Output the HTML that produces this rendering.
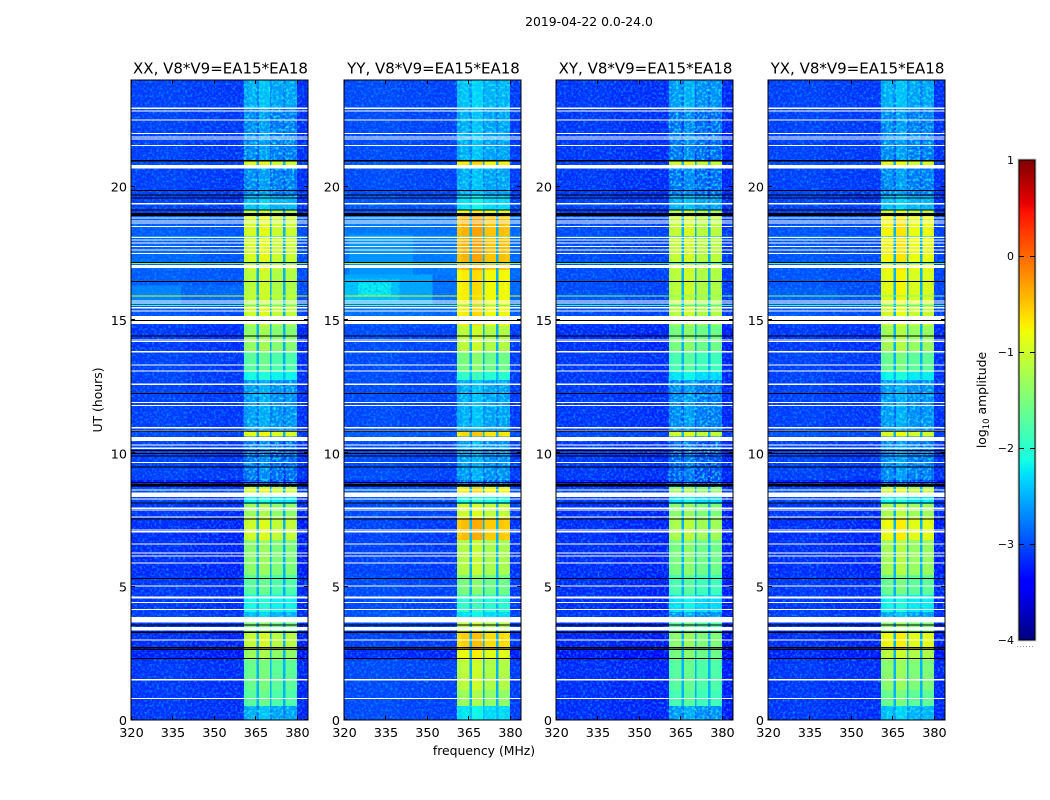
<!DOCTYPE html>
<html lang="en">
<head>
<meta charset="utf-8">
<title>2019-04-22 0.0-24.0</title>
<style>
html,body{margin:0;padding:0;background:#fff;}
svg{display:block;}
text{font-family:"DejaVu Sans","Liberation Sans",sans-serif;fill:#000;}
</style>
</head>
<body>
<svg id="chart" width="1050" height="800" viewBox="0 0 1050 800" xmlns="http://www.w3.org/2000/svg">
<defs>
<filter id="speckle" x="0" y="0" width="100%" height="100%" color-interpolation-filters="sRGB">
<feTurbulence type="fractalNoise" baseFrequency="0.42" numOctaves="2" seed="7"/>
<feColorMatrix type="matrix" values="0 0 0 0 0  0 0 0 0 0.6  0 0 0 0 1  2.4 0 0 0 -1.1"/>
</filter>
<filter id="speckle-bright" x="0" y="0" width="100%" height="100%" color-interpolation-filters="sRGB">
<feTurbulence type="fractalNoise" baseFrequency="0.38" numOctaves="2" seed="11"/>
<feColorMatrix type="matrix" values="0 0 0 0 0.1  0 0 0 0 0.95  0 0 0 0 0.95  2.6 0 0 0 -1.15"/>
</filter>
</defs>
<rect width="1050" height="800" fill="#fff"/>
<text x="589" y="26" font-size="12.4" text-anchor="middle">2019-04-22 0.0-24.0</text>
<text x="484" y="755" font-size="12.4" text-anchor="middle">frequency (MHz)</text>
<text x="102" y="400" font-size="12.4" text-anchor="middle" transform="rotate(-90 102 400)">UT (hours)</text>
<text x="986" y="400" font-size="12.4" text-anchor="middle" transform="rotate(-90 986 400)">log<tspan font-size="8.5" dy="3">10</tspan><tspan dy="-3"> amplitude</tspan></text>
<g id="panels"></g>
<g id="colorbar"></g>
</svg>
<script>
// Categories and axis ticks
const polarisations = ['XX', 'YY', 'XY', 'YX'];
const xTicks = [320, 335, 350, 365, 380];
const yTicks = [0, 5, 10, 15, 20];
const colorbarTicks = [1, 0, -1, -2, -3, -4];

// Frequency bins (MHz edges). binKind: 0 off-band, 1 in-band, 2 gap between sub-bands
const freqEdges = [320, 328, 340, 352, 360.8, 362.5, 365.3, 366.2, 368, 370.2, 370.8, 373, 375, 375.8, 378, 380, 384];
const binKind = [0, 0, 0, 0, 1, 1, 2, 1, 1, 2, 1, 1, 2, 1, 1, 0];
const binGain = [0.04, 0.06, 0.02, 0, -0.08, 0, 0, 0.1, 0.08, 0, -0.08, -0.08, 0, -0.06, -0.1, -0.04];
const gapCeiling = -2.5;

// Time segments (UT hours, start of each)
const segmentStart = [0, 0.52, 1.12, 2.25, 2.62, 3.3, 3.67, 4.05, 4.69, 5.44, 6.75, 7.58, 8.1, 8.36, 8.74, 9.0, 10.63, 10.8, 12.75, 13.05, 13.8, 14.8, 15.15, 15.6, 16.88, 18.9, 19.13, 19.65, 20.6, 20.81, 21, 22.95];

// Log10 amplitude inside the 361-380 MHz band, per polarisation
const inBandXX = [-2.55, -1.7, -1.6, -1.3, -1.05, -1.5, -2.45, -2.1, -1.7, -1.4, -1.0, -1.3, -2.15, -0.95, -3, -2.85, -0.85, -2.65, -2.1, -1.7, -1.35, -1.1, -1.0, -1.1, -0.95, -1.1, -2.45, -2.75, -2.75, -0.95, -2.75, -2.55];
const inBandYY = [-2.25, -1.3, -1.1, -0.8, -0.55, -1.1, -2.25, -1.9, -1.5, -1.15, -0.45, -1.0, -2.05, -0.7, -2.9, -2.65, -0.6, -2.55, -1.9, -1.5, -1.1, -0.7, -0.7, -0.7, -0.4, -0.8, -2.25, -2.55, -2.55, -0.7, -2.55, -2.45];
const inBandXY = [-2.65, -1.8, -1.7, -1.5, -1.4, -1.7, -2.65, -2.25, -1.8, -1.5, -1.2, -1.4, -2.25, -1.3, -3, -2.95, -1.0, -2.75, -2.25, -1.8, -1.5, -1.2, -1.1, -1.1, -1.05, -1.2, -2.55, -2.85, -2.85, -1.0, -2.85, -2.65];
const inBandYX = [-2.45, -1.6, -1.4, -1.1, -0.8, -1.4, -2.55, -2.15, -1.6, -1.25, -0.8, -1.2, -2.15, -1.0, -3, -2.75, -0.9, -2.65, -2.15, -1.6, -1.25, -0.95, -0.95, -0.85, -0.75, -1.0, -2.45, -2.75, -2.75, -0.9, -2.75, -2.55];

// Log10 amplitude outside the band, per polarisation
const offBandXX = [-3.2, -3.2, -3.2, -3.3, -3.25, -3.2, -3.15, -3.2, -3.2, -3.25, -3.25, -3.2, -3.15, -3.1, -3.35, -3.15, -3.1, -3.15, -3.15, -3.15, -3.2, -3.15, -3.05, -3.0, -3.0, -3.15, -3.15, -3.15, -3.15, -3.1, -3.15, -3.15];
const offBandYY = [-3.1, -3.1, -3.1, -3.25, -3.15, -3.1, -3.05, -3.1, -3.1, -3.15, -3.15, -3.1, -3.05, -3.0, -3.25, -3.1, -3.0, -3.1, -3.1, -3.1, -3.1, -3.05, -2.9, -2.85, -2.85, -3.05, -3.05, -3.1, -3.1, -3.05, -3.1, -3.1];
const offBandXY = [-3.25, -3.25, -3.25, -3.35, -3.3, -3.25, -3.2, -3.25, -3.25, -3.25, -3.25, -3.25, -3.2, -3.15, -3.35, -3.2, -3.1, -3.2, -3.2, -3.2, -3.25, -3.2, -3.1, -3.1, -3.1, -3.2, -3.15, -3.2, -3.2, -3.15, -3.2, -3.2];
const offBandYX = [-3.2, -3.2, -3.2, -3.3, -3.25, -3.2, -3.15, -3.2, -3.2, -3.25, -3.25, -3.2, -3.15, -3.1, -3.35, -3.15, -3.05, -3.15, -3.15, -3.15, -3.2, -3.15, -3.05, -3.05, -3.05, -3.15, -3.15, -3.15, -3.15, -3.1, -3.15, -3.15];

// Off-band glow patches: [start hour, end hour, start MHz, end MHz, level]
const glowXX = [[15.6, 16.3, 320, 338, -2.75], [15.6, 16.3, 338, 360.8, -2.9], [16.9, 17.6, 320, 345, -2.9]];
const glowYY = [[15.6, 16.7, 320, 352, -2.55], [15.7, 16.55, 320, 340, -2.4], [15.9, 16.4, 325, 337, -2.2], [16.7, 18.2, 322, 345, -2.65], [16.7, 18.2, 345, 360.8, -2.8]];
const glowXY = [[15.6, 16.0, 320, 345, -3.0]];
const glowYX = [[15.6, 16.2, 320, 345, -2.95]];

// Broadband bright rows: UT hour and level, per polarisation
const brightRowHours = [15.9, 15.55, 17.12, 17.63, 18.12];
const brightRowXX = [-1.0, -1.7, -1.7, -2.2, -2.2];
const brightRowYY = [-0.9, -1.5, -1.5, -1.8, -1.7];
const brightRowXY = [-1.5, -1.9, -2.1, -2.5, -2.5];
const brightRowYX = [-1.5, -1.8, -2.0, -2.4, -2.4];

// Rows with no data (white): [start, end] UT hours
const missingRows = [[0.79, 0.83], [1.48, 1.53], [2.98, 3.02], [3.35, 3.48], [3.65, 3.69], [3.7, 3.87], [4.13, 4.17], [4.38, 4.42], [4.56, 4.59], [4.6, 4.64], [5.01, 5.05], [5.86, 5.9], [6.13, 6.17], [6.25, 6.29], [6.58, 6.62], [7.04, 7.08], [7.11, 7.15], [7.6, 7.64], [7.86, 7.9], [7.92, 7.96], [8.27, 8.31], [8.36, 8.53], [8.61, 8.65], [9.64, 9.68], [10.17, 10.21], [10.29, 10.33], [10.46, 10.62], [10.84, 10.88], [10.94, 10.98], [11.78, 11.82], [11.88, 11.92], [12.57, 12.61], [13.07, 13.11], [13.29, 13.33], [13.79, 13.83], [14.17, 14.21], [14.23, 14.27], [14.85, 14.96], [15.0, 15.15], [15.32, 15.36], [15.44, 15.48], [15.61, 15.65], [15.69, 15.73], [16.95, 17.06], [17.48, 17.52], [17.61, 17.65], [17.73, 17.77], [17.86, 17.9], [17.98, 18.02], [18.08, 18.12], [18.48, 18.52], [18.61, 18.65], [18.7, 18.74], [18.81, 18.85], [19.34, 19.38], [20.68, 20.81], [21.53, 21.57], [21.77, 21.81], [21.85, 21.89], [21.98, 22.02], [22.48, 22.52], [22.81, 22.85], [22.92, 22.96]];

// Rows drawn black in the reference: [start, end] UT hours
const blackRows = [[2.29, 2.33], [2.63, 2.67], [2.69, 2.73], [3.27, 3.31], [3.54, 3.58], [5.29, 5.33], [7.51, 7.55], [8.12, 8.16], [8.75, 8.85], [8.88, 8.92], [9.46, 9.5], [9.88, 9.92], [9.97, 10.01], [10.08, 10.12], [10.82, 10.86], [12.23, 12.27], [14.38, 14.42], [14.96, 15.0], [16.42, 16.46], [17.13, 17.17], [18.9, 19.02], [19.11, 19.15], [19.56, 19.6], [19.67, 19.71], [19.83, 19.87], [20.94, 21.0]];

const inBandByPol = [inBandXX, inBandYY, inBandXY, inBandYX];
const offBandByPol = [offBandXX, offBandYY, offBandXY, offBandYX];
const glowByPol = [glowXX, glowYY, glowXY, glowYX];
const brightByPol = [brightRowXX, brightRowYY, brightRowXY, brightRowYX];

// Layout
const panelLefts = [131, 344, 556, 768];
const panelWidth = 177;
const panelTop = 80;
const panelBottom = 720;
const freqMin = 320;
const freqMax = 384;
const hourMax = 24;
const weakThreshold = -1.9;
const cbLeft = 1019;
const cbWidth = 16;
const cbTop = 160;
const cbBottom = 640;
const svgNS = 'http://www.w3.org/2000/svg';

function xScale(panel, mhz) {
  return panelLefts[panel] + (mhz - freqMin) / (freqMax - freqMin) * panelWidth;
}
function yScale(hour) {
  return panelBottom - hour / hourMax * (panelBottom - panelTop);
}
function cbScale(level) {
  return cbBottom - (level + 4) / 5 * (cbBottom - cbTop);
}
function piece(x, a, b, c, d) {
  if (x <= a) return c;
  if (x >= b) return d;
  return c + (d - c) * (x - a) / (b - a);
}
function jet(level) {
  const p = Math.max(0, Math.min(1, (level + 4) / 5));
  const r = p < 0.89 ? piece(p, 0.35, 0.66, 0, 1) : piece(p, 0.89, 1, 1, 0.5);
  const g = p < 0.64 ? piece(p, 0.125, 0.375, 0, 1) : piece(p, 0.64, 0.91, 1, 0);
  const b = p < 0.34 ? piece(p, 0, 0.11, 0.5, 1) : piece(p, 0.34, 0.65, 1, 0);
  return 'rgb(' + Math.round(r * 255) + ',' + Math.round(g * 255) + ',' + Math.round(b * 255) + ')';
}
function make(tag, parent, attrs, text) {
  const node = document.createElementNS(svgNS, tag);
  for (const key in attrs) node.setAttribute(key, attrs[key]);
  if (text !== undefined) node.textContent = text;
  parent.appendChild(node);
  return node;
}
function cellLevel(p, s, b) {
  const off = offBandByPol[p][s];
  const inBand = inBandByPol[p][s];
  if (binKind[b] === 0) return off + binGain[b];
  if (binKind[b] === 2) return Math.max(off, Math.min(inBand - 0.25, gapCeiling));
  return Math.max(off, inBand + binGain[b]);
}

const panelsRoot = document.getElementById('panels');

polarisations.forEach(function (pol, p) {
  const g = make('g', panelsRoot, {});
  
  

  const title = make('text', g, { x: panelLefts[p] + panelWidth / 2 + 1, y: 73.5, 'font-size': 15, 'text-anchor': 'middle' }, pol + ', V8*V9=EA15*EA18');
  
  

  // Heatmap cells from the segment and frequency arrays
  segmentStart.forEach(function (start, s) {
    const end = s + 1 < segmentStart.length ? segmentStart[s + 1] : hourMax;
    for (let b = 0; b < binKind.length; b++) {
      const x0 = xScale(p, freqEdges[b]);
      const x1 = xScale(p, freqEdges[b + 1]);
      const cell = make('rect', g, { x: x0, y: yScale(end), width: x1 - x0, height: yScale(start) - yScale(end), fill: jet(cellLevel(p, s, b)), 'shape-rendering': 'crispEdges' });
      
      
    }
  });

  glowByPol[p].forEach(function (patch) {
    const x0 = xScale(p, patch[2]);
    const x1 = xScale(p, patch[3]);
    const glow = make('rect', g, { x: x0, y: yScale(patch[1]), width: x1 - x0, height: yScale(patch[0]) - yScale(patch[1]), fill: jet(patch[4]), 'shape-rendering': 'crispEdges' });
    
    
  });

  // Fine-grain texture only; carries no data values
  const offLeft = make('rect', g, { x: xScale(p, 320), y: panelTop, width: xScale(p, 360.8) - xScale(p, 320), height: panelBottom - panelTop, fill: '#fff', filter: 'url(#speckle)' });
  
  
  const offRight = make('rect', g, { x: xScale(p, 380), y: panelTop, width: xScale(p, 384) - xScale(p, 380), height: panelBottom - panelTop, fill: '#fff', filter: 'url(#speckle)' });
  
  
  segmentStart.forEach(function (start, s) {
    if (inBandByPol[p][s] > weakThreshold) return;
    const end = s + 1 < segmentStart.length ? segmentStart[s + 1] : hourMax;
    const patch = make('rect', g, { x: xScale(p, 360.8), y: yScale(end), width: xScale(p, 380) - xScale(p, 360.8), height: yScale(start) - yScale(end), fill: '#fff', filter: 'url(#speckle-bright)' });
    
    
  });

  brightRowHours.forEach(function (hour, i) {
    const row = make('rect', g, { x: xScale(p, freqMin), y: yScale(hour) - 0.5, width: panelWidth, height: 1, fill: jet(brightByPol[p][i]), 'shape-rendering': 'crispEdges' });
    
    
  });

  missingRows.forEach(function (range) {
    const row = make('rect', g, { x: xScale(p, freqMin), y: yScale(range[1]), width: panelWidth, height: yScale(range[0]) - yScale(range[1]), fill: '#fff', 'shape-rendering': 'crispEdges' });
    
    
  });

  blackRows.forEach(function (range) {
    const row = make('rect', g, { x: xScale(p, freqMin), y: yScale(range[1]), width: panelWidth, height: yScale(range[0]) - yScale(range[1]), fill: '#000', 'shape-rendering': 'crispEdges' });
    
    
  });

  const frame = make('rect', g, { x: panelLefts[p], y: panelTop, width: panelWidth, height: panelBottom - panelTop, fill: 'none', stroke: '#000', 'stroke-width': 1, 'shape-rendering': 'crispEdges' });
  
  

  xTicks.forEach(function (tick) {
    const x = Math.round(xScale(p, tick)) + 0.5;
    const lower = make('line', g, { x1: x, x2: x, y1: panelBottom, y2: panelBottom - 4, stroke: '#000' });
    
    
    const upper = make('line', g, { x1: x, x2: x, y1: panelTop, y2: panelTop + 4, stroke: '#000' });
    
    
    const label = make('text', g, { x: xScale(p, tick) + 0.5, y: 737, 'font-size': 12.8, 'text-anchor': 'middle' }, String(tick));
    
    
  });

  yTicks.forEach(function (tick) {
    const y = Math.round(yScale(tick)) - 0.5;
    const left = make('line', g, { x1: panelLefts[p], x2: panelLefts[p] + 4, y1: y, y2: y, stroke: '#000' });
    
    
    const right = make('line', g, { x1: panelLefts[p] + panelWidth, x2: panelLefts[p] + panelWidth - 4, y1: y, y2: y, stroke: '#000' });
    
    
    const label = make('text', g, { x: panelLefts[p] - 4, y: yScale(tick) + 5, 'font-size': 12.8, 'text-anchor': 'end' }, String(tick));
    
    
  });
});

// Colorbar
const cb = document.getElementById('colorbar');
for (let y = cbTop; y < cbBottom; y += 2) {
  const level = -4 + (cbBottom - y - 1) / (cbBottom - cbTop) * 5;
  const slice = make('rect', cb, { x: cbLeft, y: y, width: cbWidth, height: 2, fill: jet(level), 'shape-rendering': 'crispEdges' });
  
  
}
const cbFrame = make('rect', cb, { x: cbLeft, y: cbTop, width: cbWidth, height: cbBottom - cbTop, fill: 'none', stroke: '#000', 'shape-rendering': 'crispEdges' });


const cbHalo = make('rect', cb, { x: cbLeft - 1, y: cbTop - 1, width: cbWidth + 2, height: cbBottom - cbTop + 2, fill: 'none', stroke: '#ccc', 'shape-rendering': 'crispEdges' });


colorbarTicks.forEach(function (tick) {
  const y = Math.round(cbScale(tick));
  if (tick < 1 && tick > -4) {
    const leftMark = make('line', cb, { x1: cbLeft, x2: cbLeft + 5, y1: y + 0.5, y2: y + 0.5, stroke: '#000' });
    
    
    const rightMark = make('line', cb, { x1: cbLeft + cbWidth - 5, x2: cbLeft + cbWidth, y1: y + 0.5, y2: y + 0.5, stroke: '#000' });
    
    
  }
  const label = make('text', cb, { x: cbLeft - 5, y: cbScale(tick) + 4, 'font-size': 11, 'text-anchor': 'end' }, String(tick).replace('-', '\u2212'));
  
  
});
const cbDots = make('line', cb, { x1: 1017, x2: 1035, y1: 646.5, y2: 646.5, stroke: '#999', 'stroke-dasharray': '1 2' });


</script>
</body>
</html>
